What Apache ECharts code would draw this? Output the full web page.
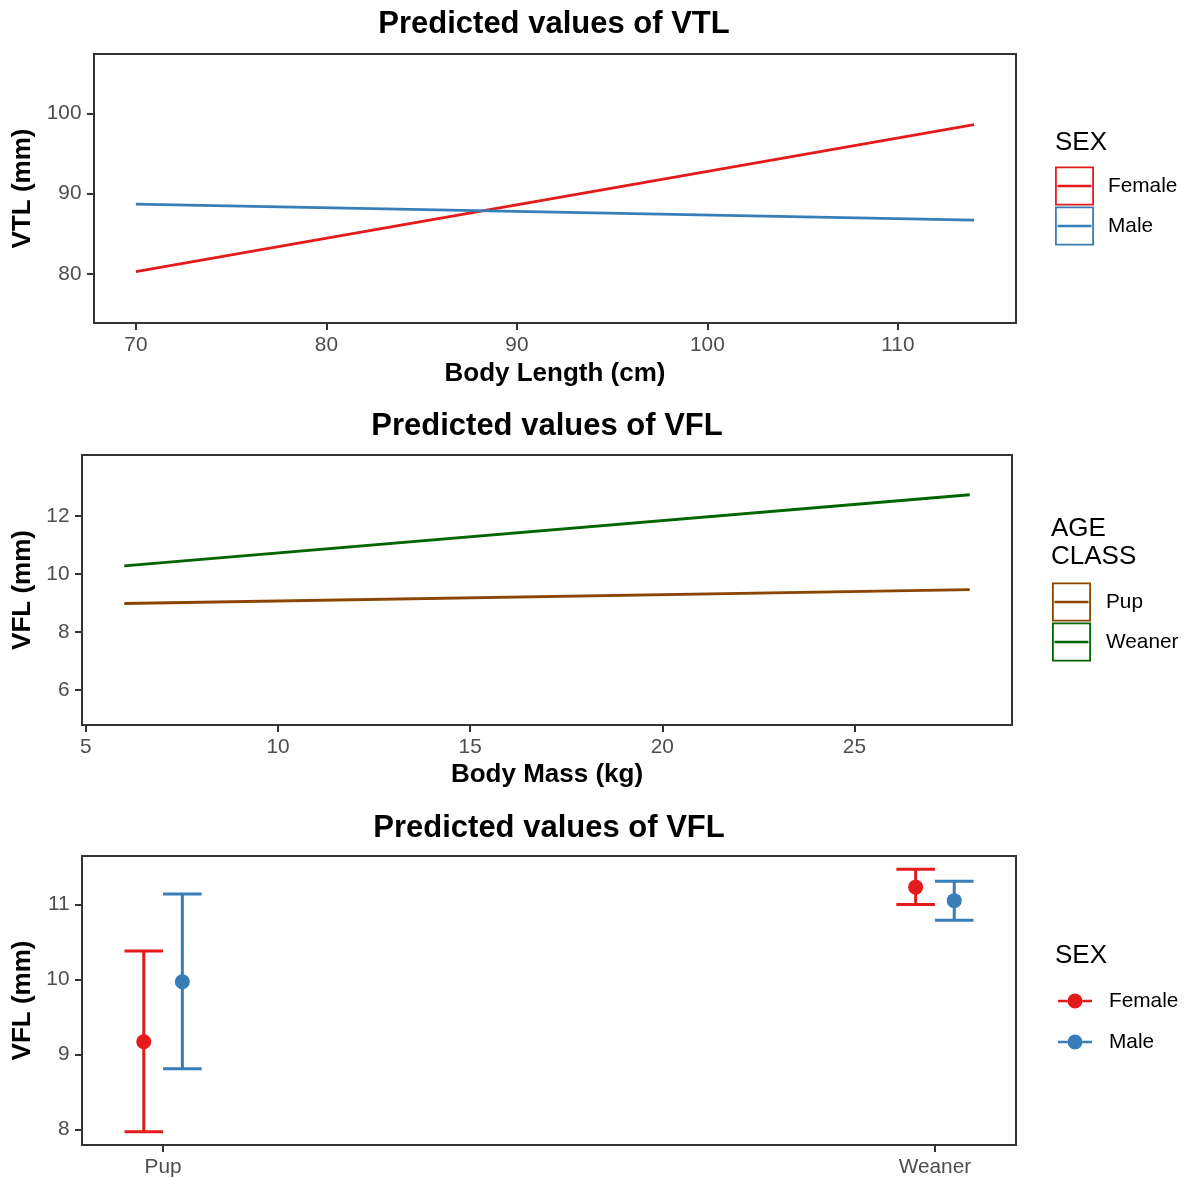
<!DOCTYPE html>
<html>
<head>
<meta charset="utf-8">
<title>Predicted values</title>
<script src="https://cdn.jsdelivr.net/npm/echarts@6.0.0/dist/echarts.min.js"></script>
<style>
  html, body { margin: 0; padding: 0; background: #fff; }
  #chart { width: 1187px; height: 1178px; }
</style>
</head>
<body>
<div id="chart"></div>
<script>
// panel 1: VTL vs body length, by sex
const lengthX = [70, 114];
const vtlFemale = [80.3, 98.6];
const vtlMale = [88.7, 86.7];
const lengthTicks = [70, 80, 90, 100, 110];
const vtlTicks = [80, 90, 100];

// panel 2: VFL vs body mass, by age class
const massX = [6, 28];
const vflPup = [8.98, 9.46];
const vflWeaner = [10.28, 12.73];
const massTicks = [5, 10, 15, 20, 25];
const vflTicks = [6, 8, 10, 12];

// panel 3: VFL by age class and sex (mean + CI)
const ageClasses = ['Pup', 'Weaner'];
const femaleMean = [9.17, 11.23];
const femaleLow = [7.97, 11.0];
const femaleHigh = [10.38, 11.47];
const maleMean = [9.97, 11.05];
const maleLow = [8.81, 10.79];
const maleHigh = [11.14, 11.31];
const vflTicks3 = [8, 9, 10, 11];

const RED = '#E41A1C', BLUE = '#377EB8', BROWN = '#8B4500', GREEN = '#006400';
const FONT = '"Liberation Sans", Arial, sans-serif';
const dodge = 0.025;

const boxIcon = 'path://M0,0H39V39H0Z M1.8,1.8V37.2H37.2V1.8Z M2.5,18.25H36.5V20.75H2.5Z';
const dotIcon = 'path://M0,6.75H9.5V9.25H0Z M24.5,6.75H34V9.25H24.5Z M9.5,8A7.5,7.5 0 1 1 24.5,8A7.5,7.5 0 1 1 9.5,8Z';

function zip(xs, ys) {
  return xs.map((x, i) => [x, ys[i]]);
}

function valueAxis(gridIndex, min, max, ticks, name, nameGap, isY) {
  return {
    type: 'value',
    gridIndex: gridIndex,
    min: min,
    max: max,
    name: name,
    nameLocation: 'middle',
    nameGap: nameGap,
    nameRotate: isY ? 90 : 0,
    nameTextStyle: { fontSize: 26, fontWeight: 'bold', color: '#000', fontFamily: FONT },
    splitLine: { show: false },
    axisLine: { show: false },
    axisTick: { show: true, length: 7, customValues: ticks, lineStyle: { color: '#333', width: 2 } },
    axisLabel: { customValues: ticks, fontSize: 20.8, color: '#4D4D4D', margin: isY ? 12.5 : 12, fontFamily: FONT }
  };
}

function errorBar(params, api) {
  const x = api.value(0);
  const lo = api.coord([x, api.value(1)]);
  const hi = api.coord([x, api.value(2)]);
  const half = api.size([dodge, 0])[0];
  const style = { stroke: api.visual('color'), lineWidth: 3 };
  return {
    type: 'group',
    children: [
      { type: 'line', shape: { x1: lo[0], y1: lo[1], x2: hi[0], y2: hi[1] }, style: style },
      { type: 'line', shape: { x1: hi[0] - half, y1: hi[1], x2: hi[0] + half, y2: hi[1] }, style: style },
      { type: 'line', shape: { x1: lo[0] - half, y1: lo[1], x2: lo[0] + half, y2: lo[1] }, style: style }
    ]
  };
}

const lineSeries = (name, data, color, idx) => ({
  name: name,
  type: 'line',
  xAxisIndex: idx,
  yAxisIndex: idx,
  data: data,
  showSymbol: false,
  silent: true,
  color: color,
  lineStyle: { color: color, width: 2.8 }
});

const legendText = (pad) => ({ fontSize: 20.8, color: '#000', fontFamily: FONT, padding: [0, 0, 0, pad] });
const legendTitle = (text, left, top, lh) => ({
  text: text, left: left, top: top, padding: 0,
  textStyle: { fontSize: 26, fontWeight: 'normal', color: '#000', fontFamily: FONT, lineHeight: lh }
});
const panelTitle = (text, cx, top) => ({
  text: text, left: cx, top: top, padding: 0, textAlign: 'center',
  textStyle: { fontSize: 31, fontWeight: 'bold', color: '#000', fontFamily: FONT, lineHeight: 36 }
});

const chart = echarts.init(document.getElementById('chart'));

chart.setOption({
  animation: false,
  backgroundColor: '#fff',
  textStyle: { fontFamily: FONT },
  title: [
    panelTitle('Predicted values of VTL', 554, 6),
    panelTitle('Predicted values of VFL', 547, 408),
    panelTitle('Predicted values of VFL', 549, 810),
    legendTitle('SEX', 1055, 128, 30),
    legendTitle('AGE\nCLASS', 1051, 514, 28.7),
    legendTitle('SEX', 1055, 941, 30)
  ],
  grid: [
    { left: 94, top: 54, width: 922, height: 269, show: true, borderColor: '#333', borderWidth: 2 },
    { left: 82, top: 455, width: 930, height: 270, show: true, borderColor: '#333', borderWidth: 2 },
    { left: 82, top: 856, width: 934, height: 289, show: true, borderColor: '#333', borderWidth: 2 }
  ],
  xAxis: [
    valueAxis(0, 67.8, 116.2, lengthTicks, 'Body Length (cm)', 38, false),
    valueAxis(1, 4.9, 29.1, massTicks, 'Body Mass (kg)', 37, false),
    Object.assign(valueAxis(2, 0.895, 2.105, [1, 2], '', 0, false), {
      axisLabel: {
        customValues: [1, 2], fontSize: 20.8, color: '#4D4D4D', margin: 12, fontFamily: FONT,
        formatter: (v) => ageClasses[Math.round(v) - 1]
      }
    })
  ],
  yAxis: [
    valueAxis(0, 73.9, 107.4, vtlTicks, 'VTL (mm)', 56, true),
    valueAxis(1, 4.79, 14.1, vflTicks, 'VFL (mm)', 43, true),
    valueAxis(2, 7.795, 11.645, vflTicks3, 'VFL (mm)', 43, true)
  ],
  legend: [
    {
      data: ['Female', 'Male'], orient: 'vertical', left: 1055, top: 166.5, padding: 0,
      icon: boxIcon, itemWidth: 39, itemHeight: 39, itemGap: 1, selectedMode: false,
      itemStyle: { borderWidth: 0 }, textStyle: legendText(9)
    },
    {
      data: ['Pup', 'Weaner'], orient: 'vertical', left: 1052, top: 582.5, padding: 0,
      icon: boxIcon, itemWidth: 39, itemHeight: 39, itemGap: 1, selectedMode: false,
      itemStyle: { borderWidth: 0 }, textStyle: legendText(10)
    },
    {
      data: ['Female', 'Male'], orient: 'vertical', left: 1058, top: 990.5, padding: 0,
      icon: dotIcon, itemWidth: 34, itemHeight: 15, itemGap: 20, selectedMode: false,
      itemStyle: { borderWidth: 0 }, textStyle: legendText(12)
    }
  ],
  series: [
    lineSeries('Female', zip(lengthX, vtlFemale), RED, 0),
    lineSeries('Male', zip(lengthX, vtlMale), BLUE, 0),
    lineSeries('Pup', zip(massX, vflPup), BROWN, 1),
    lineSeries('Weaner', zip(massX, vflWeaner), GREEN, 1),
    {
      name: 'Female', type: 'custom', xAxisIndex: 2, yAxisIndex: 2, silent: true,
      itemStyle: { color: RED }, renderItem: errorBar,
      data: ageClasses.map((c, i) => [i + 1 - dodge, femaleLow[i], femaleHigh[i]])
    },
    {
      name: 'Male', type: 'custom', xAxisIndex: 2, yAxisIndex: 2, silent: true,
      itemStyle: { color: BLUE }, renderItem: errorBar,
      data: ageClasses.map((c, i) => [i + 1 + dodge, maleLow[i], maleHigh[i]])
    },
    {
      name: 'Female', type: 'scatter', xAxisIndex: 2, yAxisIndex: 2, silent: true,
      symbolSize: 15, itemStyle: { color: RED, opacity: 1 },
      data: ageClasses.map((c, i) => [i + 1 - dodge, femaleMean[i]])
    },
    {
      name: 'Male', type: 'scatter', xAxisIndex: 2, yAxisIndex: 2, silent: true,
      symbolSize: 15, itemStyle: { color: BLUE, opacity: 1 },
      data: ageClasses.map((c, i) => [i + 1 + dodge, maleMean[i]])
    }
  ]
});
</script>
</body>
</html>
